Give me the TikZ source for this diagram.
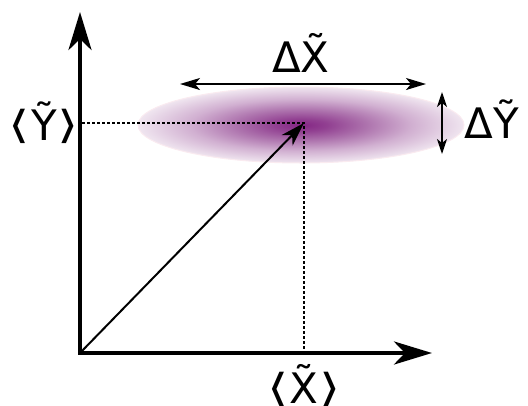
\documentclass[tikz,border=0pt]{standalone}
\usepackage{fontspec}
\setmainfont{DejaVu Sans}
\usetikzlibrary{arrows.meta}
\pgfdeclareradialshading{blob}{\pgfpoint{0bp}{0bp}}{%
  rgb(0bp)=(0.52,0.15,0.52);
  rgb(4bp)=(0.57,0.25,0.57);
  rgb(10bp)=(0.68,0.45,0.68);
  rgb(17bp)=(0.82,0.69,0.82);
  rgb(25bp)=(0.94,0.90,0.94);
  rgb(50bp)=(1,1,1)}
\newcommand\lbr{\raisebox{2pt}{\scalebox{1.3}[0.92]{⟨}}\kern1pt}
\newcommand\rbr{\kern1pt\raisebox{2pt}{\scalebox{1.3}[0.92]{⟩}}}
\tikzset{
  axis/.style={line width=4.5pt, line join=miter, line cap=rect,
    -{Stealth[length=38pt,width=23pt,inset=11pt]}},
  vec/.style={line width=2pt, -{Stealth[length=24pt,width=15pt,inset=7pt]}},
  spreadx/.style={line width=2pt, {Stealth[length=20pt,width=12pt,inset=5pt]}-{Stealth[length=20pt,width=12pt,inset=5pt]}},
  spready/.style={line width=1.6pt, {Stealth[length=15pt,width=10pt,inset=4pt]}-{Stealth[length=15pt,width=10pt,inset=4pt]}},
  guide/.style={line width=2.6pt, dash pattern=on 2.6pt off 2.4pt},
  lbl/.style={font=\fontsize{42}{50}\selectfont, inner sep=0pt, anchor=base},
}
\begin{document}
\begin{tikzpicture}[x=1pt,y=-1pt]
\useasboundingbox (0,0) rectangle (528,405);
% blob
\shade[shading=blob] (301,125) ellipse [x radius=163, y radius=38];
\draw[purple!8, line width=1pt] (301,125) ellipse [x radius=163, y radius=38];
% points
\coordinate (O) at (80,353);
\coordinate (Ytip) at (80,12);
\coordinate (Xtip) at (432,353);
\coordinate (P) at (304,123);
\coordinate (Py) at (82,123);
\coordinate (Px) at (304,353);
\coordinate (DXa) at (180,84);
\coordinate (DXb) at (426,84);
\coordinate (DYa) at (442,92);
\coordinate (DYb) at (442,154);
% guides
\draw[guide] (Py) -- (P) -- (Px);
% axes
\draw[axis] (O) -- (Ytip);
\draw[axis] (O) -- (Xtip);
% vector
\draw[vec] (O) -- (P);
% spreads
\draw[spreadx] (DXa) -- (DXb);
\draw[spready] (DYa) -- (DYb);
% labels
\node[lbl] (lDX) at (301,72) {ΔX̃};
\node[lbl] (lDY) at (492,138) {ΔỸ};
\node[lbl] (lY) at (44,140) {\lbr Ỹ\rbr};
\node[lbl] (lX) at (304,403) {\lbr X̃\rbr};
\end{tikzpicture}
\end{document}
